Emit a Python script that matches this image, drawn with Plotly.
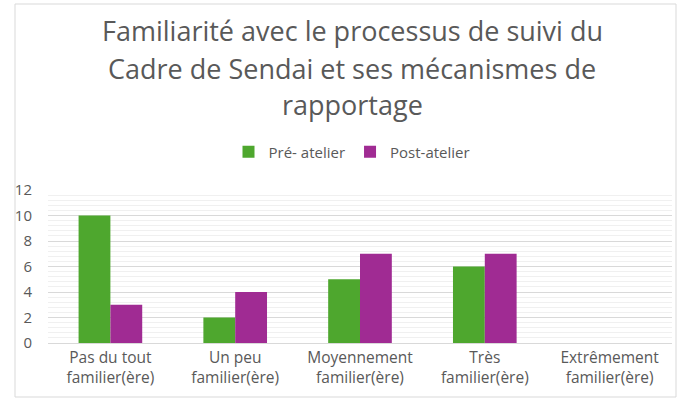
import plotly.graph_objects as go

categories = ["Pas du tout<br>familier(ère)", "Un peu<br>familier(ère)", "Moyennement<br>familier(ère)",
              "Très<br>familier(ère)", "Extrêmement<br>familier(ère)"]
pre_atelier = [10, 2, 5, 6, None]
post_atelier = [3, 4, 7, 7, None]
y_ticks = [0, 2, 4, 6, 8, 10, 12]
title_lines = ["Familiarité avec le processus de suivi du",
               "Cadre de Sendai et ses mécanismes de",
               "rapportage"]

W, H = 683, 400
L, R, T, B = 48, 11, 190, 57

fig = go.Figure()
fig.add_trace(go.Bar(name="Pré- atelier", x=categories, y=pre_atelier, marker_color="#4EA72E",
                     marker_line_width=0))
fig.add_trace(go.Bar(name="Post-atelier", x=categories, y=post_atelier, marker_color="#A02B93",
                     marker_line_width=0))

font = "'Open Sans', Roboto, sans-serif"
gray = "#595959"

pw = W - L - R
ph = H - T - B


def px_x(x):
    return (x - L) / pw


def px_y(y):
    return (H - B - y) / ph


fig.add_shape(type="rect", xref="paper", yref="paper",
              x0=px_x(15), x1=px_x(676), y0=px_y(397), y1=px_y(4),
              line=dict(color="#d9d9d9", width=1), layer="below")

for line, yc in zip(title_lines, [30, 69, 104]):
    fig.add_annotation(text=line, xref="paper", yref="paper", x=px_x(352), y=px_y(yc),
                       xanchor="center", yanchor="middle", showarrow=False,
                       font=dict(family=font, size=27, color=gray))

fig.update_layout(
    width=W, height=H,
    margin=dict(l=L, r=R, t=T, b=B, autoexpand=False),
    paper_bgcolor="white", plot_bgcolor="white",
    barmode="group", bargap=0.49, bargroupgap=0,
    legend=dict(orientation="h", x=px_x(352), xanchor="center", y=px_y(152), yanchor="middle",
                font=dict(family=font, size=15, color=gray), itemwidth=30, traceorder="normal"),
    font=dict(family=font, color=gray),
    yaxis=dict(range=[0, 12], tickvals=y_ticks, showgrid=True, gridcolor="#d9d9d9", gridwidth=1,
               minor=dict(dtick=0.4, showgrid=True, gridcolor="#f0f0f0", gridwidth=1),
               zeroline=False, showline=False, ticks="outside", ticklen=12, tickcolor="rgba(0,0,0,0)",
               automargin=False,
               tickfont=dict(family=font, size=15, color=gray)),
    xaxis=dict(showgrid=False, showline=True, linecolor="#d9d9d9", ticks="", automargin=False,
               tickfont=dict(family=font, size=15.5, color=gray)),
    showlegend=True,
)

fig.write_html("out.html", config={"displayModeBar": False},
               post_script="document.body.style.margin='0';document.body.style.overflow='hidden';")
